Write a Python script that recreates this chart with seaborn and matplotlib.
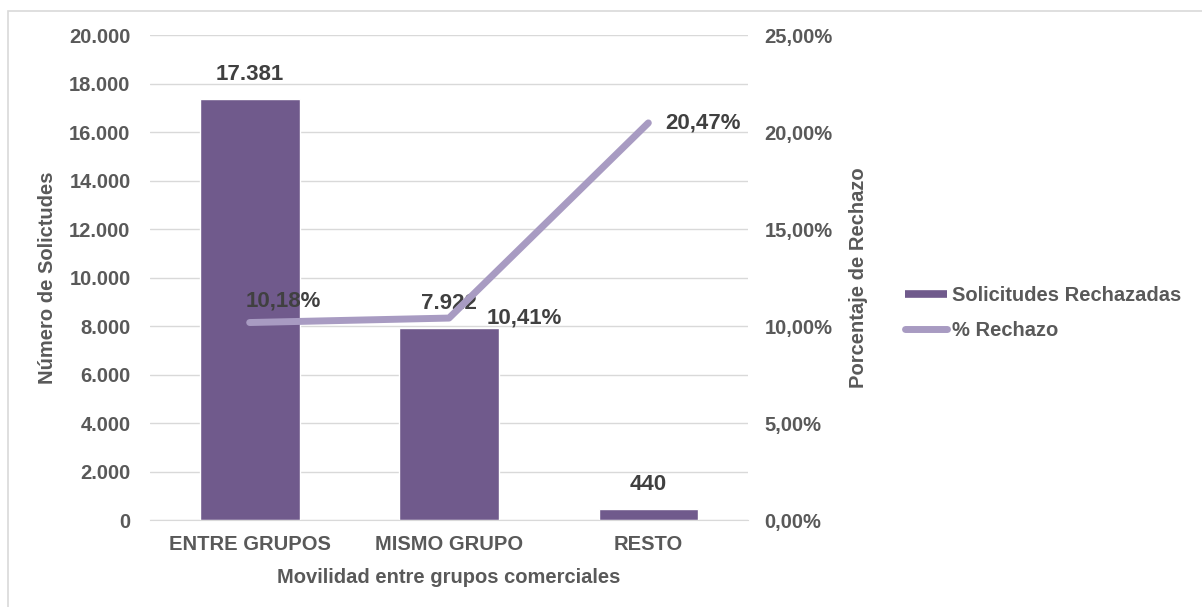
import matplotlib
matplotlib.use("Agg")
import matplotlib.pyplot as plt
from matplotlib.patches import Rectangle
from matplotlib.lines import Line2D
from matplotlib.ticker import FuncFormatter
import seaborn as sns
import pandas as pd
import numpy as np

# Datos
categorias = ["ENTRE GRUPOS", "MISMO GRUPO", "RESTO"]
solicitudes_rechazadas = [17381, 7922, 440]
pct_rechazo = [10.18, 10.41, 20.47]

df = pd.DataFrame({
    "cat": categorias,
    "pos": np.arange(len(categorias)),
    "rechazadas": solicitudes_rechazadas,
    "pct": pct_rechazo,
})

sns.set_style("white")
plt.rcParams["font.family"] = ["Liberation Sans", "DejaVu Sans"]
plt.rcParams["font.weight"] = "bold"

gris = "#595959"
oscuro = "#404040"
morado = "#705a8c"
lavanda = "#a89bc2"
fs = 14.5

fig = plt.figure(figsize=(12.02, 6.07), dpi=100)
ax = fig.add_axes([0.1248, 0.1433, 0.4975, 0.799])
ax2 = ax.twinx()

sns.barplot(data=df, x="cat", y="rechazadas", color=morado, width=0.5,
            saturation=1, ax=ax, zorder=2)
sns.lineplot(data=df, x="pos", y="pct", color=lavanda, linewidth=5,
             ax=ax2, solid_capstyle="round", solid_joinstyle="round")

ax.set_ylim(0, 20000)
ax.set_yticks(np.arange(0, 20001, 2000))
ax.yaxis.set_major_formatter(FuncFormatter(lambda v, p: f"{int(v):,}".replace(",", ".")))
ax2.set_ylim(0, 25)
ax2.set_yticks(np.arange(0, 25.1, 5))
ax2.yaxis.set_major_formatter(FuncFormatter(lambda v, p: f"{v:.2f}%".replace(".", ",")))
ax.set_xlim(-0.5, 2.5)

ax.grid(axis="y", color="#d9d9d9", linewidth=1, zorder=0)
ax.set_axisbelow(True)
for a in (ax, ax2):
    for s in a.spines.values():
        s.set_visible(False)
ax.spines["bottom"].set_visible(True)
ax.spines["bottom"].set_color("#d9d9d9")

ax.tick_params(axis="y", length=0, pad=14, labelsize=fs, labelcolor=gris)
ax.tick_params(axis="x", length=0, pad=11, labelsize=fs, labelcolor=gris)
ax2.tick_params(axis="y", length=0, pad=12, labelsize=fs, labelcolor=gris)
for lab in ax.get_xticklabels() + ax.get_yticklabels() + ax2.get_yticklabels():
    lab.set_fontweight("bold")

ax.set_xlabel("Movilidad entre grupos comerciales", fontsize=fs, color=gris,
              fontweight="bold")
ax.set_ylabel("Número de Solictudes", fontsize=fs, color=gris, fontweight="bold")
ax2.set_ylabel("Porcentaje de Rechazo", fontsize=fs, color=gris, fontweight="bold")
ax.xaxis.set_label_coords(0.5, -0.099)
ax.yaxis.set_label_coords(-0.172, 0.5)
ax.yaxis.label.set_va("center")
ax2.yaxis.set_label_coords(1.184, 0.5)
ax2.yaxis.label.set_va("center")

# Etiquetas de datos
for i, v in enumerate(solicitudes_rechazadas):
    ax.annotate(f"{v:,}".replace(",", "."), (i, v), xytext=(0, 10),
                textcoords="offset points", ha="center", va="bottom",
                fontsize=16, fontweight="bold", color=oscuro)
offsets = [(24, 8, "center", "bottom"), (27, 0, "left", "center"), (12, 0, "left", "center")]
for i, v in enumerate(pct_rechazo):
    dx, dy, ha, va = offsets[i]
    ax2.annotate(f"{v:.2f}%".replace(".", ","), (i, v), xytext=(dx, dy),
                 textcoords="offset points", ha=ha, va=va,
                 fontsize=16, fontweight="bold", color=oscuro)

handles = [Line2D([0], [0], color=morado, linewidth=5.5, solid_capstyle="butt"),
           Line2D([0], [0], color=lavanda, linewidth=5, solid_capstyle="round")]
fig.legend(handles, ["Solicitudes Rechazadas", "% Rechazo"],
           loc="center left", bbox_to_anchor=(0.753, 0.484), frameon=False,
           labelcolor=gris, handlelength=2.1, handletextpad=0.25,
           labelspacing=0.8, borderpad=0, borderaxespad=0,
           prop={"weight": "bold", "size": fs})

fig.patches.append(Rectangle((8 / 1202, -0.05), 1.2, 1 - 11 / 607 + 0.05,
                             transform=fig.transFigure, fill=False,
                             edgecolor="#d9d9d9", linewidth=1.2))

fig.savefig("out.png", dpi=100)
